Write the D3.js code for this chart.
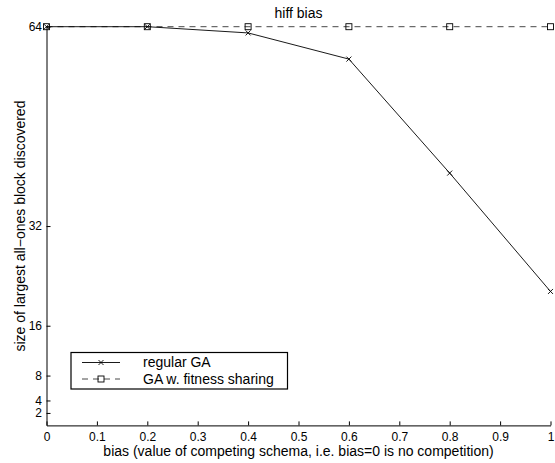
<!DOCTYPE html>
<html>
<head>
<meta charset="utf-8">
<script src="https://cdn.jsdelivr.net/npm/d3@7"></script>
<style>
  body { margin: 0; background: #fff; }
  svg { display: block; }
  text { font-family: "Liberation Sans", Arial, Helvetica, sans-serif; fill: #000; }
</style>
</head>
<body>
<svg id="chart" width="555" height="463"></svg>
<script>
const biasValues = [0, 0.2, 0.4, 0.6, 0.8, 1.0];
const regularGA = [64, 64, 63.0, 58.8, 40.5, 21.5];
const fitnessSharingGA = [64, 64, 64, 64, 64, 64];
const xTicks = [0, 0.1, 0.2, 0.3, 0.4, 0.5, 0.6, 0.7, 0.8, 0.9, 1];
const yTicks = [2, 4, 8, 16, 32, 64];
const seriesNames = ["regular GA", "GA w. fitness sharing"];

const svg = d3.select("#chart");
const margin = { left: 46.5, right: 4.5, top: 26.7, bottom: 37.6 };
const W = 555, H = 463;
const x = d3.scaleLinear().domain([0, 1]).range([margin.left, W - margin.right]);
const y = d3.scaleLinear().domain([0, 64]).range([H - margin.bottom, margin.top]);

const fs = 14;
const tfs = 12;

// x axis
const xAxis = d3.axisBottom(x).tickValues(xTicks).tickSizeInner(-4).tickSizeOuter(0).tickPadding(7)
  .tickFormat(d => d === 0 || d === 1 ? String(d) : d3.format(".1f")(d));
const gx = svg.append("g").attr("transform", `translate(0,${y(0)})`).call(xAxis);
gx.select(".domain").attr("stroke", "#000").attr("stroke-width", 1);
gx.selectAll(".tick line").attr("stroke", "#000");
gx.selectAll("text").attr("font-size", tfs).attr("font-family", "Liberation Sans, Arial, sans-serif");

// y axis
const yAxis = d3.axisLeft(y).tickValues(yTicks).tickSizeInner(-4).tickSizeOuter(0).tickPadding(4.5);
const gy = svg.append("g").attr("transform", `translate(${x(0)},0)`).call(yAxis);
gy.select(".domain").attr("stroke", "#000").attr("stroke-width", 1);
gy.selectAll(".tick line").attr("stroke", "#000");
gy.selectAll("text").attr("font-size", tfs).attr("font-family", "Liberation Sans, Arial, sans-serif");

// lines
const line = d3.line().x((d, i) => x(biasValues[i])).y(d => y(d));

svg.append("path").datum(fitnessSharingGA).attr("d", line)
  .attr("fill", "none").attr("stroke", "#333").attr("stroke-width", 0.9).attr("stroke-dasharray", "6,5");
svg.append("path").datum(regularGA).attr("d", line)
  .attr("fill", "none").attr("stroke", "#000").attr("stroke-width", 0.9);

// markers
function crossMark(g, cx, cy, s) {
  g.append("path").attr("d", `M${cx - s},${cy - s}L${cx + s},${cy + s}M${cx - s},${cy + s}L${cx + s},${cy - s}`)
    .attr("stroke", "#000").attr("stroke-width", 0.9).attr("fill", "none");
}
function squareMark(g, cx, cy, s) {
  g.append("rect").attr("x", cx - s).attr("y", cy - s).attr("width", 2 * s).attr("height", 2 * s)
    .attr("stroke", "#000").attr("stroke-width", 0.9).attr("fill", "none");
}
const mg = svg.append("g");
fitnessSharingGA.forEach((v, i) => squareMark(mg, x(biasValues[i]), y(v), 3));
regularGA.forEach((v, i) => crossMark(mg, x(biasValues[i]), y(v), 2.5));

// title
svg.append("text").attr("x", (x(0) + x(1)) / 2).attr("y", 18).attr("text-anchor", "middle")
  .attr("font-size", fs).text("hiff bias");

// x label
svg.append("text").attr("x", (x(0) + x(1)) / 2).attr("y", 455.5).attr("text-anchor", "middle")
  .attr("font-size", fs).text("bias (value of competing schema, i.e. bias=0 is no competition)");

// y label
svg.append("text").attr("transform", `translate(25,${(y(0) + y(64)) / 2}) rotate(-90)`)
  .attr("text-anchor", "middle").attr("font-size", fs)
  .text("size of largest all\u2212ones block discovered");

// legend
const lg = svg.append("g");
lg.append("rect").attr("x", 71).attr("y", 352.5).attr("width", 216.5).attr("height", 36.5)
  .attr("fill", "#fff").attr("stroke", "#000").attr("stroke-width", 1.2);
const rows = [362.5, 379];
lg.append("line").attr("x1", 82).attr("x2", 120).attr("y1", rows[0]).attr("y2", rows[0])
  .attr("stroke", "#000").attr("stroke-width", 0.9);
crossMark(lg, 101, rows[0], 2.5);
lg.append("line").attr("x1", 82).attr("x2", 120).attr("y1", rows[1]).attr("y2", rows[1])
  .attr("stroke", "#333").attr("stroke-width", 0.9).attr("stroke-dasharray", "6,5");
squareMark(lg, 101, rows[1], 3);
seriesNames.forEach((n, i) => {
  lg.append("text").attr("x", 143).attr("y", rows[i] + 4.5).attr("font-size", fs).text(n);
});
</script>
</body>
</html>
